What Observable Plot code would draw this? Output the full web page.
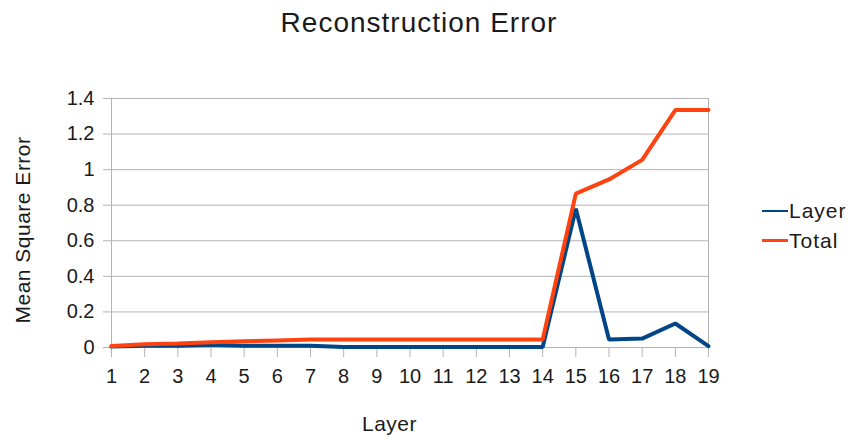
<!DOCTYPE html>
<html><head><meta charset="utf-8">
<script src="https://cdn.jsdelivr.net/npm/d3@7"></script>
<script src="https://cdn.jsdelivr.net/npm/@observablehq/plot@0.6"></script>
<style>
body{margin:0;background:#fff;font-family:"Liberation Sans",Arial,sans-serif;color:#1a1a1a;}
#wrap{position:relative;width:853px;height:440px;overflow:hidden;}
.abs{position:absolute;white-space:nowrap;line-height:1;}
#title{left:0;width:838px;top:9px;text-align:center;font-size:28px;letter-spacing:1px;}
#xlab{left:362px;top:413px;font-size:21px;letter-spacing:0.5px;}
#ylab{left:22px;top:230px;font-size:21px;letter-spacing:0.5px;transform:translate(-50%,-50%) rotate(-90deg);}
.leg{font-size:21px;letter-spacing:1px;display:flex;align-items:center;left:762px;height:21px;}
.leg span.sw{display:inline-block;width:26px;margin-right:1px;}
</style></head>
<body><div id="wrap">
<div id="chart"></div>
<div class="abs" id="title">Reconstruction Error</div>
<div class="abs" id="xlab">Layer</div>
<div class="abs" id="ylab">Mean Square Error</div>
<div class="abs leg" style="top:200px"><span class="sw" style="background:#004586;height:2px"></span>Layer</div>
<div class="abs leg" style="top:230px"><span class="sw" style="background:#ff420e;height:3px"></span>Total</div>
</div>
<script>
const layers = [1,2,3,4,5,6,7,8,9,10,11,12,13,14,15,16,17,18,19];
const layerError = [0.005,0.01,0.01,0.015,0.01,0.01,0.01,0.003,0.003,0.003,0.003,0.003,0.003,0.003,0.78,0.045,0.05,0.135,0.008];
const totalError = [0.008,0.018,0.022,0.03,0.035,0.04,0.045,0.045,0.045,0.045,0.045,0.045,0.045,0.045,0.865,0.945,1.055,1.335,1.335];
const yTicks = [0,0.2,0.4,0.6,0.8,1,1.2,1.4];
const seriesNames = ["Layer","Total"];
const colors = ["#004586","#ff420e"];

const data = [];
layers.forEach((l,i)=>{
  data.push({layer:l, value:layerError[i], series:seriesNames[0]});
  data.push({layer:l, value:totalError[i], series:seriesNames[1]});
});

const chart = Plot.plot({
  width:853, height:440,
  marginLeft:111, marginRight:145, marginTop:98, marginBottom:93,
  style:{fontFamily:'"Liberation Sans",Arial,sans-serif', fontSize:"20px", color:"#1a1a1a", background:"#fff"},
  x:{domain:[1,19], label:null},
  y:{domain:[0,1.4], label:null},
  color:{domain:seriesNames, range:colors},
  marks:[
    Plot.gridY(yTicks,{stroke:"#b3b3b3", strokeOpacity:1, strokeWidth:1}),
    Plot.ruleX([1,19],{stroke:"#b3b3b3", strokeWidth:1}),
    Plot.axisY({ticks:yTicks, tickSize:8, tickPadding:9, stroke:"#b3b3b3", tickFormat:d=>String(d), fill:"#1a1a1a"}),
    Plot.axisX({ticks:layers, tickSize:10, tickPadding:11, stroke:"#b3b3b3", tickFormat:d=>String(d), fill:"#1a1a1a"}),
    Plot.ruleY([0],{stroke:"#b3b3b3"}),
    Plot.lineY(data,{x:"layer", y:"value", stroke:"series", strokeWidth:4, strokeLinejoin:"miter", z:"series"})
  ]
});
document.getElementById("chart").appendChild(chart);
</script>
</body></html>
